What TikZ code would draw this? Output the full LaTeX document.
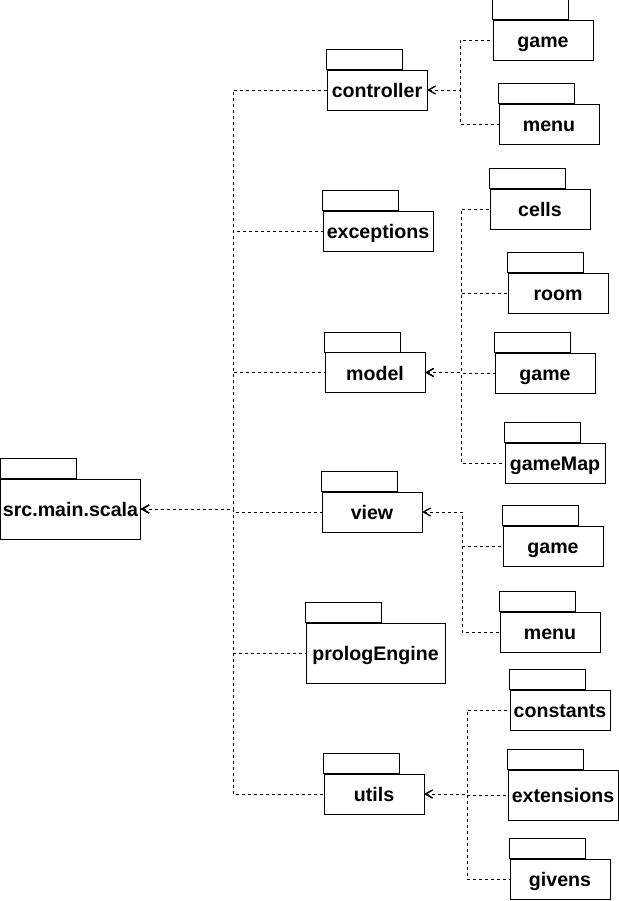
\documentclass[tikz,border=0pt]{standalone}
\usepackage{fontspec}
\setmainfont{Liberation Sans}
\usetikzlibrary{arrows.meta, positioning, calc}

\begin{document}
\begin{tikzpicture}[x=0.5pt, y=-0.5pt, line width=0.5pt,
    pkg/.style={draw, rectangle, minimum width=50pt, minimum height=20pt, inner sep=0pt,
      text height=8.3pt, text depth=0.5pt, font=\fontsize{9.8}{12}\bfseries\selectfont},
    dep/.style={dash pattern=on 1.5pt off 1.5pt, {Straight Barb[length=3.5pt, width=4pt]}-}]
    \useasboundingbox (0,0) rectangle (619,901);

    % packages
    \node[pkg, minimum width=70pt, minimum height=30pt] (root) at (70.5,509) {src.main.scala};
    \node[pkg] (ctrl) at (377,90) {controller};
    \node[pkg, minimum width=55pt] (exc) at (378,231) {exceptions};
    \node[pkg] (model) at (375,372.5) {model};
    \node[pkg] (view) at (372,512) {view};
    \node[pkg, minimum width=69.5pt, minimum height=30pt] (prolog) at (375.5,653) {prologEngine};
    \node[pkg] (utils) at (374,794) {utils};

    \node[pkg] (cgame) at (543,40) {game};
    \node[pkg] (cmenu) at (549,124) {menu};
    \node[pkg] (cells) at (540,209) {cells};
    \node[pkg] (room) at (558,293) {room};
    \node[pkg] (mgame) at (545,373) {game};
    \node[pkg] (gamemap) at (555,463) {gameMap};
    \node[pkg] (vgame) at (553,546) {game};
    \node[pkg] (vmenu) at (550,632) {menu};
    \node[pkg] (const) at (560,710) {constants};
    \node[pkg, minimum width=55pt, minimum height=25pt] (ext) at (563,795) {extensions};
    \node[pkg] (givens) at (560,879) {givens};

    % tabs
    \foreach \n in {root, ctrl, exc, model, view, prolog, utils, cgame, cmenu, cells,
        room, mgame, gamemap, vgame, vmenu, const, ext, givens}
        \draw (\n.north west) rectangle ++(76,-20);

    % buses
    \coordinate (bus) at (233,0);
    \coordinate (cbus) at (460,0);
    \coordinate (mbus) at (461,0);
    \coordinate (vbus) at (462,0);
    \coordinate (ubus) at (467,0);

    % dependencies, drawn from the arrow end so shared dashes line up
    \foreach \n in {ctrl, exc, model, view, prolog, utils}
        \draw[dep] (root.east) -- (root.east -| bus) |- (\n.west);
    \foreach \n in {cgame, cmenu}
        \draw[dep] (ctrl.east) -- (ctrl.east -| cbus) |- (\n.west);
    \foreach \n in {cells, room, mgame, gamemap}
        \draw[dep] (model.east) -- (model.east -| mbus) |- (\n.west);
    \foreach \n in {vgame, vmenu}
        \draw[dep] (view.east) -- (view.east -| vbus) |- (\n.west);
    \foreach \n in {const, ext, givens}
        \draw[dep] (utils.east) -- (utils.east -| ubus) |- (\n.west);
\end{tikzpicture}
\end{document}
